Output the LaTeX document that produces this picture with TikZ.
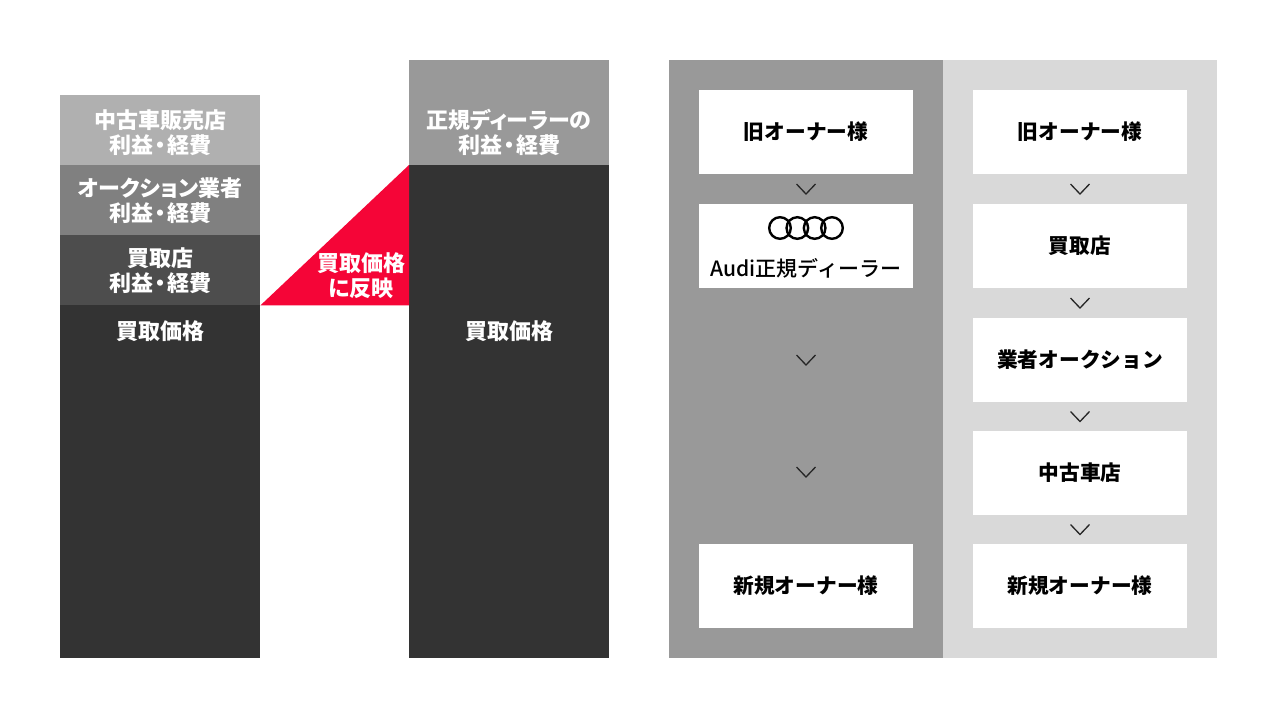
\documentclass[tikz,border=0pt]{standalone}
\usepackage{fontspec}
\setmainfont{Noto Sans CJK JP}
\newfontfamily\jpmed{Noto Sans CJK JP Medium}
\newfontfamily\jpp{Noto Sans CJK JP}[RawFeature=+palt]
\usetikzlibrary{calc}
\definecolor{segA}{HTML}{B0B0B0}
\definecolor{segB}{HTML}{808080}
\definecolor{segC}{HTML}{4D4D4D}
\definecolor{segD}{HTML}{333333}
\definecolor{midgray}{HTML}{999999}
\definecolor{lightlane}{HTML}{D9D9D9}
\definecolor{audired}{HTML}{F50537}
\newcommand\rieki{利益\kern1.5pt・\kern1.5pt経費}
\tikzset{
  seg/.style={rectangle, inner sep=0pt, anchor=north west, minimum width=200pt},
  lane/.style={rectangle, inner sep=0pt, anchor=north west, minimum width=274pt, minimum height=598pt},
  wbox/.style={rectangle, inner sep=0pt, fill=white, minimum width=214pt, minimum height=84pt,
    font=\fontsize{20.7}{25}\selectfont\bfseries, text=black},
  lbl/.style={inner sep=0pt, text=white, align=center, font=\jpp\fontsize{22}{25}\selectfont\bfseries},
  chev/.style={draw=black!85, line width=1.3pt},
  ring/.style={draw=black, line width=2.4pt}
}
\newcommand\chevat[1]{\draw[chev] ([shift={(-9.5,-5)}]#1) -- ([shift={(0,5)}]#1) -- ([shift={(9.5,-5)}]#1);}
\begin{document}
\begin{tikzpicture}[x=1pt,y=-1pt]
\useasboundingbox (0,0) rectangle (1277,718);
\fill[white] (0,0) rectangle (1277,718);
% left column
\node[seg, fill=segA, minimum height=70pt] (s1) at (60,95) {};
\node[seg, fill=segB, minimum height=70pt] (s2) at (60,165) {};
\node[seg, fill=segC, minimum height=70pt] (s3) at (60,235) {};
\node[seg, fill=segD, minimum height=353pt] (s4) at (60,305) {};
\node[lbl] (t1) at (160,132.5) {中古車販売店\\\rieki};
\node[lbl] (t2) at (160,200.5) {オークション業者\\\rieki};
\node[lbl] (t3) at (160,270.5) {買取店\\\rieki};
\node[lbl] (t4) at (160,331) {買取価格};
% middle column
\node[seg, fill=midgray, minimum height=105pt] (m1) at (409,60) {};
\node[seg, fill=segD, minimum height=493pt] (m2) at (409,165) {};
\node[lbl] (u1) at (509,132.5) {正規ディーラーの\\\rieki};
\node[lbl] (u2) at (509,331) {買取価格};
% red triangle
\fill[audired] (s3.south east) -- (m2.north west) -- (m2.west |- s3.south east) -- cycle;
\node[lbl] (r1) at (361,276) {買取価格\\に反映};
% lanes
\node[lane, fill=midgray] (L) at (669,60) {};
\node[lane, fill=lightlane] (R) at (943,60) {};
% left lane boxes
\node[wbox] (a1) at (806,132) {旧オーナー様};
\node[wbox] (a2) at (806,246) {};
\node[wbox] (a3) at (806,586) {新規オーナー様};
\foreach \i in {0,1,2,3} {\draw[ring] (780+\i*17.33,228) circle (10.8);}
\node[inner sep=0pt, font=\fontsize{21}{25}\jpmed\selectfont] (audi) at (806,268) {Audi正規ディーラー};
% right lane boxes
\node[wbox] (b1) at (1080,132) {旧オーナー様};
\node[wbox] (b2) at (1080,246) {買取店};
\node[wbox] (b3) at (1080,360) {業者オークション};
\node[wbox] (b4) at (1080,473) {中古車店};
\node[wbox] (b5) at (1080,586) {新規オーナー様};
% chevrons
\coordinate (ca1) at ($(a1.south)!0.5!(a2.north)$);
\coordinate (ca2) at (806,360);
\coordinate (ca3) at (806,472);
\coordinate (cb1) at ($(b1.south)!0.5!(b2.north)$);
\coordinate (cb2) at ($(b2.south)!0.5!(b3.north)$);
\coordinate (cb3) at ($(b3.south)!0.5!(b4.north)$);
\coordinate (cb4) at ($(b4.south)!0.5!(b5.north)$);
\chevat{ca1}\chevat{ca2}\chevat{ca3}
\chevat{cb1}\chevat{cb2}\chevat{cb3}\chevat{cb4}
\end{tikzpicture}
\end{document}
